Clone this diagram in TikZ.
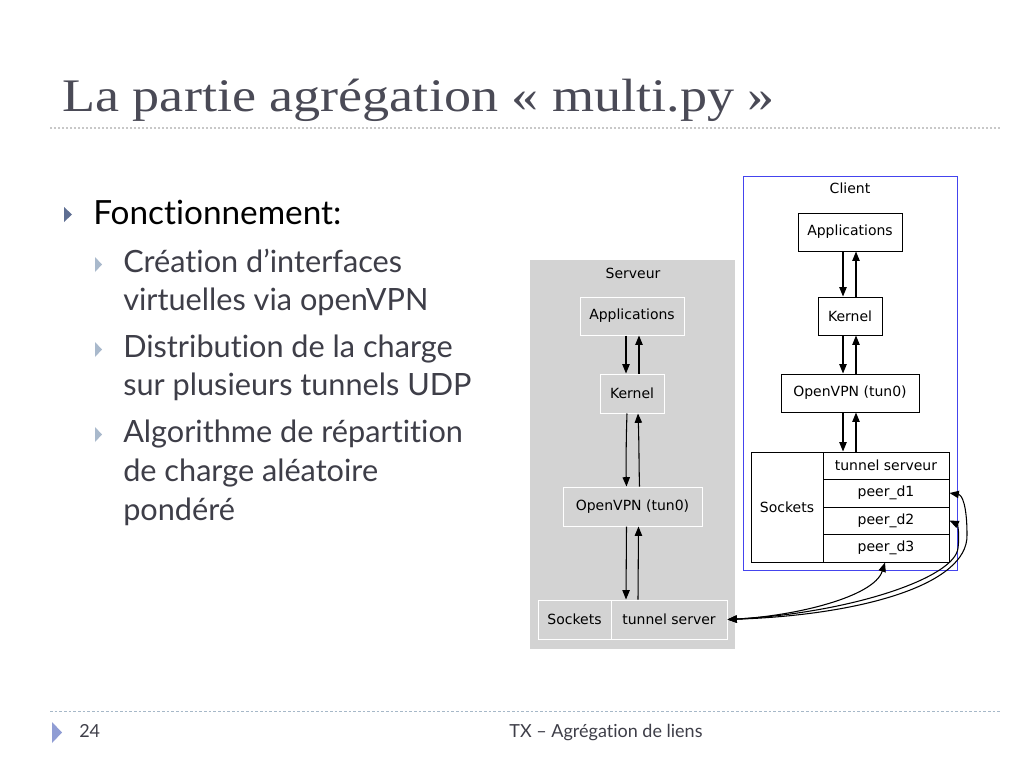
\documentclass[tikz,border=0pt]{standalone}
\usepackage{fontspec}
\usetikzlibrary{arrows.meta,fit,calc}
\newfontfamily\ttlfont{Liberation Serif}
\newfontfamily\bodyfont[Ligatures={NoCommon,NoRare,NoDiscretionary}]{Lato}
\newfontfamily\gvfont{DejaVu Sans}
\definecolor{titlegray}{HTML}{4A4A56}
\definecolor{subgray}{HTML}{3E3E48}
\definecolor{srvgray}{HTML}{D3D3D3}
\definecolor{cliblue}{HTML}{4444EE}
\definecolor{bulletdark}{HTML}{5E6E92}
\definecolor{bulletlight}{HTML}{A9B9CC}
\definecolor{footline}{HTML}{A6B8C8}
\definecolor{titleline}{HTML}{C8C8C8}
\begin{document}
\begin{tikzpicture}[x=0.75pt,y=-0.75pt,
  gv/.style={font=\gvfont\fontsize{10.5}{12}\selectfont},
  srv/.style={gv, draw=white, line width=0.75pt, inner sep=0pt},
  cli/.style={gv, draw=black, fill=white, line width=0.75pt, inner sep=0pt},
  edge/.style={line width=0.8pt, -{Triangle[length=7pt,width=5.5pt]}},
  biedge/.style={line width=0.8pt, {Triangle[length=7pt,width=5.5pt]}-{Triangle[length=7pt,width=5.5pt]}},
  body/.style={anchor=base west, inner sep=0pt, font=\bodyfont\fontsize{23}{27}\selectfont, text=subgray},
  foot/.style={anchor=base, inner sep=0pt, font=\bodyfont\fontsize{13.5}{16}\selectfont, text=subgray}]
\useasboundingbox (0,0) rectangle (1024,768);
\fill[white] (0,0) rectangle (1024,768);

% title
\node[anchor=base west, inner sep=0pt, font=\ttlfont\fontsize{35}{40}\selectfont, text=titlegray] (title) at (62,111) {\scalebox{1.16}[1]{La partie agrégation « multi.py »}};
\draw[titleline, line width=1pt, dash pattern=on 1.5pt off 1.5pt] (50,128) -- (1000,128);

% bullets
\fill[bulletdark] (64,207) -- (72,214.5) -- (64,222) -- cycle;
\node[anchor=base west, inner sep=0pt, font=\bodyfont\fontsize{25}{29}\selectfont, text=black] (fonc) at (93,224) {Fonctionnement:};
\foreach \yy in {264.5,349.5,434.5}{
  \fill[bulletlight] (95,\yy-7.5) -- (102,\yy) -- (95,\yy+7.5) -- cycle;
}
\node[body] (l1) at (123,272) {Création d’interfaces};
\node[body] (l2) at (123,310) {virtuelles via openVPN};
\node[body] (l3) at (123,357) {Distribution de la charge};
\node[body] (l4) at (123,395) {sur plusieurs tunnels UDP};
\node[body] (l5) at (123,442) {Algorithme de répartition};
\node[body] (l6) at (123,481) {de charge aléatoire};
\node[body] (l7) at (123,520) {pondéré};

% server cluster
\fill[srvgray] (530,260) rectangle (735,649);
\node[gv, inner sep=0pt] (srvlbl) at (633,273) {Serveur};
\node[srv, fit={(580,297) (684,335)}] (sapp) {};
\node[gv] at (sapp.center) {Applications};
\node[srv, fit={(600,374) (664,413)}] (sker) {};
\node[gv] at (sker.center) {Kernel};
\node[srv, fit={(563,487) (702,526)}] (sovp) {};
\node[gv] at (sovp.center) {OpenVPN (tun0)};
\node[srv, fit={(538,600) (611,639)}] (ssock) {};
\node[gv] at (ssock.center) {Sockets};
\node[srv, fit={(611,600) (727,639)}] (stun) {};
\node[gv] at (stun.center) {tunnel server};

\draw[edge] ($(sapp.south)+(-6,0)$) -- ($(sker.north)+(-6,0)$);
\draw[edge] ($(sker.north)+(7,0)$) -- ($(sapp.south)+(7,0)$);
\draw[edge] ($(sker.south)+(-5,0)$) .. controls (626,440) and (626,470) .. ($(sovp.north)+(-6,0)$);
\draw[edge] ($(sovp.north)+(7,0)$) .. controls (639,470) and (639,440) .. ($(sker.south)+(6,0)$);
\draw[edge] ($(sovp.south)+(-6,0)$) -- ($(stun.north)+(-43,0)$);
\draw[edge] ($(stun.north)+(-31,0)$) -- ($(sovp.south)+(6,0)$);

% client cluster
\draw[cliblue, line width=0.75pt, fill=white] (743,176) rectangle (957,570);
\node[gv, inner sep=0pt] (clilbl) at (850,188) {Client};
\node[cli, fit={(798,213) (902,251)}] (capp) {};
\node[gv] at (capp.center) {Applications};
\node[cli, fit={(818,297) (882,335)}] (cker) {};
\node[gv] at (cker.center) {Kernel};
\node[cli, fit={(781,374) (919,412)}] (covp) {};
\node[gv] at (covp.center) {OpenVPN (tun0)};
\node[cli, fit={(751,452) (823,562)}] (csock) {};
\node[gv] at (csock.center) {Sockets};
\node[cli, fit={(823,452) (949,479)}] (ctun) {};
\node[gv] at (ctun.center) {tunnel serveur};
\node[cli, fit={(823,479) (949,507)}] (cd1) {};
\node[gv] at (cd1.center) {peer\_d1};
\node[cli, fit={(823,507) (949,534)}] (cd2) {};
\node[gv] at (cd2.center) {peer\_d2};
\node[cli, fit={(823,534) (949,562)}] (cd3) {};
\node[gv] at (cd3.center) {peer\_d3};

\draw[edge] ($(capp.south)+(-7,0)$) -- ($(cker.north)+(-7,0)$);
\draw[edge] ($(cker.north)+(6,0)$) -- ($(capp.south)+(6,0)$);
\draw[edge] ($(cker.south)+(-7,0)$) -- ($(covp.north)+(-7,0)$);
\draw[edge] ($(covp.north)+(6,0)$) -- ($(cker.south)+(6,0)$);
\draw[edge] ($(covp.south)+(-7,0)$) -- ($(ctun.north)+(-43,0)$);
\draw[edge] ($(ctun.north)+(-30,0)$) -- ($(covp.south)+(6,0)$);

% links between server and client
\draw[biedge] (stun.east) .. controls (795,616) and (874,597) .. ($(cd3.south)+(-1,0)$);
\draw[biedge] (stun.east) .. controls (860,615) and (968,585) .. (967,535) .. controls (967,505) and (962,495) .. (cd1.east);
\draw[biedge] (stun.east) .. controls (850,613) and (955,578) .. (958,548) .. controls (960,532) and (957,524) .. (cd2.east);

% footer
\draw[footline, line width=0.75pt, dash pattern=on 2pt off 1.5pt] (50,711) -- (1000,711);
\fill[bulletlight!85!blue] (52,722) -- (62,732.5) -- (52,743) -- cycle;
\node[foot, anchor=base west] (pg) at (79,737) {24};
\node[foot] (ft) at (606,737) {TX – Agrégation de liens};
\end{tikzpicture}
\end{document}
